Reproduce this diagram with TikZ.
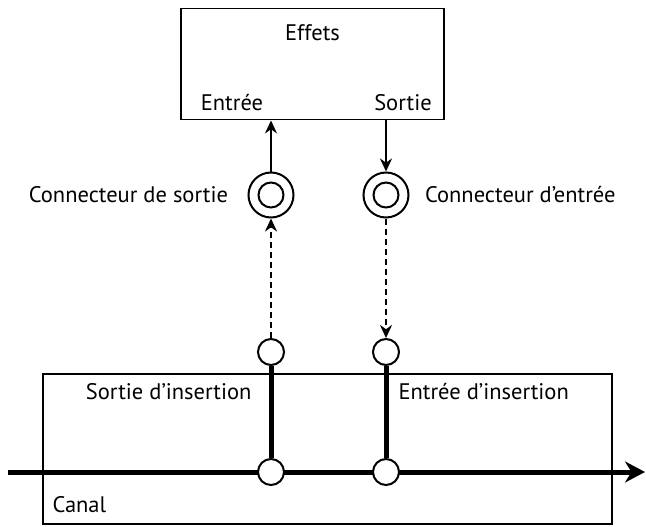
\documentclass[tikz,border=0pt]{standalone}
\usepackage{fontspec}
\setmainfont{PT Sans}
\usetikzlibrary{positioning, arrows.meta}

\begin{document}
\begin{tikzpicture}[x=1pt, y=-1pt, font=\fontsize{22.5}{26}\selectfont, >=Stealth,
  box/.style={draw, line width=1.9pt, inner sep=0pt},
  jack/.style={circle, draw, line width=2pt, minimum size=45pt, inner sep=0pt},
  jackcore/.style={circle, draw, line width=2pt, minimum size=25pt, inner sep=0pt},
  tap/.style={circle, draw, line width=2pt, fill=white, minimum size=26pt, inner sep=0pt},
  feed/.style={-{Stealth[length=13pt, width=12pt]}, line width=2pt},
  bus/.style={line width=5pt}]
  \useasboundingbox (0,0) rectangle (646,527);

  % Boxes
  \node[box, minimum width=263pt, minimum height=111pt] (fx) at (312.5,64) {};
  \node[box, minimum width=569pt, minimum height=150pt] (canal) at (327.5,449) {};
  \node at (312.5,33) {Effets};
  \node at (232,103) {Entrée};
  \node at (403,103) {Sortie};
  \node[anchor=west] at (49,505) {Canal};
  \node[anchor=east] at (255,392) {Sortie d’insertion};
  \node[anchor=west] at (395,392) {Entrée d’insertion};

  % Main signal line
  \coordinate (busin) at (8,472);
  \coordinate (busout) at (645,472);
  \draw[bus, -{Stealth[length=20pt, width=21pt]}] (busin) -- (busout);

  % Insert points
  \node[tap] (sendlo) at (271,472) {};
  \node[tap] (retlo) at (386,472) {};
  \node[tap] (sendhi) at (271,352) {};
  \node[tap] (rethi) at (386,352) {};
  \draw[bus] (sendhi) -- (sendlo);
  \draw[bus] (rethi) -- (retlo);

  % Jacks
  \node[jack] (outjack) at (271,195) {};
  \node[jackcore] at (outjack) {};
  \node[jack] (injack) at (386,195) {};
  \node[jackcore] at (injack) {};
  \node[left=16pt of outjack] {Connecteur de sortie};
  \node[right=12pt of injack] {Connecteur d’entrée};

  % Connections
  \draw[feed] (outjack) -- (outjack |- fx.south);
  \draw[feed] (injack |- fx.south) -- (injack);
  \draw[feed, dash pattern=on 6pt off 4pt] (sendhi) -- (outjack);
  \draw[feed, dash pattern=on 6pt off 4pt] (injack) -- (rethi);
\end{tikzpicture}
\end{document}
